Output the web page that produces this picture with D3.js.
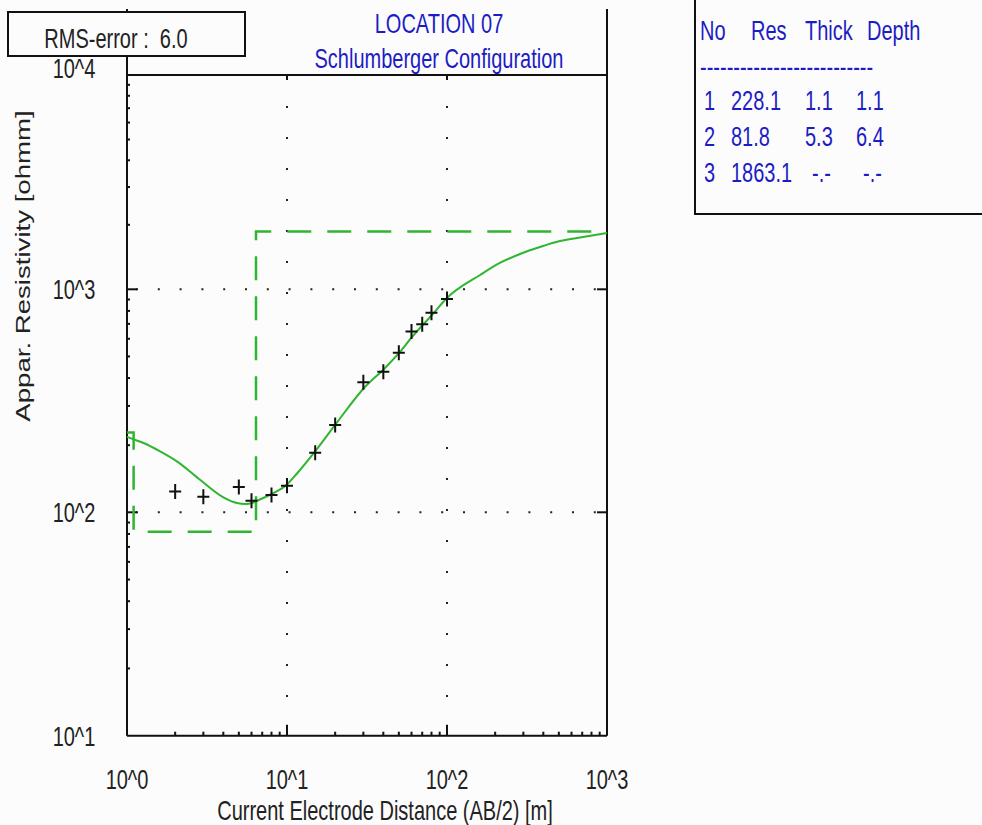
<!DOCTYPE html>
<html>
<head>
<meta charset="utf-8">
<script src="https://cdn.jsdelivr.net/npm/d3@7"></script>
<style>
  body { margin: 0; background: #fcfcfc; }
  text { font-family: "Liberation Sans", Arial, sans-serif; font-size: 20px; }
</style>
</head>
<body>
<script>
// sounding data (AB/2 in m, apparent resistivity in ohmm)
var obsAB  = [2, 3, 5, 6, 8, 10, 15, 20, 30, 40, 50, 60, 70, 80, 100];
var obsRho = [124, 117.5, 130, 112.7, 119.6, 131.6, 185, 246, 383, 427, 520, 646, 697, 785, 905];

// fitted model curve
var fitAB  = [1, 1.09, 1.28, 1.6, 2.08, 2.86, 3.98, 4.87, 5.5, 6.04, 6.77, 8, 10, 11.55, 15.2, 20.2, 30.3, 41, 50.8, 60.4, 80.5, 100, 161, 214, 286, 381, 508, 708, 1000];
var fitRho = [218, 213, 204, 188, 168, 140, 117, 110, 109, 110, 114.1, 120.8, 133.3, 149.3, 190, 249, 361, 444, 524, 611, 767, 914, 1166, 1327, 1461, 1575, 1680, 1754, 1831];

// layered model
var layerNo    = [1, 2, 3];
var layerRes   = [228.1, 81.8, 1863.1];
var layerThick = [1.1, 5.3];
var layerDepth = [1.1, 6.4];

var xTicks = [1, 10, 100, 1000];
var xTickLabels = ["10^0", "10^1", "10^2", "10^3"];
var yTicks = [10, 100, 1000, 10000];
var yTickLabels = ["10^1", "10^2", "10^3", "10^4"];

var rmsError = 6.0;
var titleLines = ["LOCATION 07", "Schlumberger Configuration"];

var green = '#2fb52f';
var blue = '#1c1cc4';
var stretch = 'scale(1,1.38)';

var svg = d3.select("body").append("svg")
    .attr("width", 982)
    .attr("height", 825)
    .style("background", "#fcfcfc");

var x = d3.scaleLog().domain([1, 1000]).range([127, 607]);
var y = d3.scaleLog().domain(yTicks).range([735.7, 512.3, 289.3, 75]);

function txt(px, py, s, anchor, color) {
    return svg.append("text")
        .attr("transform", "translate(" + px + "," + py + ") " + stretch)
        .attr("text-anchor", anchor || "start")
        .style("fill", color || "#222")
        .text(s);
}

// dotted grid at the inner decades
svg.selectAll("line.hgrid")
    .data(yTicks.slice(1, 3))
    .enter().append("line")
    .attr("x1", x(1)).attr("x2", x(1000))
    .attr("y1", function (d) { return y(d); })
    .attr("y2", function (d) { return y(d); })
    .style("stroke", "#222").style("stroke-width", 2)
    .style("stroke-dasharray", "2,19.8").style("stroke-dashoffset", 12.8);

svg.selectAll("line.vgrid")
    .data(xTicks.slice(1, 3))
    .enter().append("line")
    .attr("y1", y(10000)).attr("y2", y(10))
    .attr("x1", function (d) { return x(d); })
    .attr("x2", function (d) { return x(d); })
    .style("stroke", "#222").style("stroke-width", 2)
    .style("stroke-dasharray", "2,29");

// frame
var frame = svg.append("g").style("stroke", "#111").style("stroke-width", 2);
frame.append("line").attr("x1", x(1)).attr("x2", x(1)).attr("y1", 9).attr("y2", y(10));
frame.append("line").attr("x1", x(1000)).attr("x2", x(1000)).attr("y1", 9).attr("y2", y(10));
frame.append("line").attr("x1", x(1)).attr("x2", x(1000)).attr("y1", y(10)).attr("y2", y(10));
frame.append("line").attr("x1", x(1)).attr("x2", x(1000)).attr("y1", y(10000)).attr("y2", y(10000));

// minor ticks
var minorX = [], minorY = [];
[1, 10, 100].forEach(function (p) { d3.range(2, 10).forEach(function (k) { minorX.push(k * p); }); });
[10, 100, 1000].forEach(function (p) { d3.range(2, 10).forEach(function (k) { minorY.push(k * p); }); });

frame.selectAll("line.mx").data(minorX).enter().append("line")
    .attr("x1", function (d) { return x(d); }).attr("x2", function (d) { return x(d); })
    .attr("y1", y(10)).attr("y2", y(10) - 4);
frame.selectAll("line.my").data(minorY).enter().append("line")
    .attr("y1", function (d) { return y(d); }).attr("y2", function (d) { return y(d); })
    .attr("x1", x(1)).attr("x2", x(1) + 3);

// major ticks
var innerX = xTicks.slice(1, 3), innerY = yTicks.slice(1, 3);
frame.selectAll("line.bx").data(innerX).enter().append("line")
    .attr("x1", function (d) { return x(d); }).attr("x2", function (d) { return x(d); })
    .attr("y1", y(10)).attr("y2", y(10) - 11);
frame.selectAll("line.tx").data(innerX).enter().append("line")
    .attr("x1", function (d) { return x(d); }).attr("x2", function (d) { return x(d); })
    .attr("y1", y(10000)).attr("y2", y(10000) + 5);
frame.selectAll("line.ly").data(innerY).enter().append("line")
    .attr("y1", function (d) { return y(d); }).attr("y2", function (d) { return y(d); })
    .attr("x1", x(1)).attr("x2", x(1) + 10);
frame.selectAll("line.ry").data(innerY).enter().append("line")
    .attr("y1", function (d) { return y(d); }).attr("y2", function (d) { return y(d); })
    .attr("x1", x(1000)).attr("x2", x(1000) - 10);

// tick labels
xTicks.forEach(function (d, i) { txt(x(d), 789, xTickLabels[i], "middle"); });
yTicks.forEach(function (d, i) {
    txt(74, y(d) + (i === yTicks.length - 1 ? 3 : 10), yTickLabels[i], "middle");
});

// axis titles
txt(385, 820, "Current Electrode Distance (AB/2) [m]", "middle");
svg.append("text")
    .attr("transform", "translate(30,266) " + stretch + " rotate(-90)")
    .attr("text-anchor", "middle")
    .style("fill", "#222")
    .text("Appar. Resistivity [ohmm]");

// layered model (dashed steps)
var stepX = [x.domain()[0]].concat(layerDepth, [x.domain()[1]]);
var stepY = layerRes.concat([layerRes[layerRes.length - 1]]);
svg.append("path")
    .datum(d3.zip(stepX, stepY))
    .attr("d", d3.line()
        .x(function (d) { return x(d[0]); })
        .y(function (d) { return y(d[1]); })
        .curve(d3.curveStepAfter))
    .style("fill", "none").style("stroke", green).style("stroke-width", 2.5)
    .style("stroke-dasharray", "24,16");

// fitted curve
svg.append("path")
    .datum(d3.zip(fitAB, fitRho))
    .attr("d", d3.line()
        .x(function (d) { return x(d[0]); })
        .y(function (d) { return y(d[1]); })
        .curve(d3.curveMonotoneX))
    .style("fill", "none").style("stroke", green).style("stroke-width", 2);

// observed points as crosses
svg.selectAll("path.obs")
    .data(d3.zip(obsAB, obsRho))
    .enter().append("path")
    .attr("class", "obs")
    .attr("transform", function (d) { return "translate(" + x(d[0]) + "," + y(d[1]) + ")"; })
    .attr("d", "M-6,0H6M0,-7.5V7.5")
    .style("stroke", "#111").style("stroke-width", 2);

// RMS box
svg.append("rect")
    .attr("x", 8).attr("y", 12).attr("width", 237).attr("height", 44)
    .style("fill", "#fcfcfc").style("stroke", "#111").style("stroke-width", 2);
txt(116, 48, "RMS-error :  " + rmsError.toFixed(1), "middle").style("white-space", "pre");

// title
txt(439, 33, titleLines[0], "middle", blue);
txt(439, 68, titleLines[1], "middle", blue);

// model table
svg.append("path")
    .attr("d", "M695,0V214H982")
    .style("fill", "none").style("stroke", "#111").style("stroke-width", 2);

var headers = ["No", "Res", "Thick", "Depth"];
var headerX = [700, 751, 805, 867];
headers.forEach(function (h, i) { txt(headerX[i], 40, h, "start", blue); });
txt(700, 76, d3.range(26).map(function () { return "-"; }).join(""), "start", blue);

var colX = [704, 731, 805, 856];
var rowY = d3.scaleLinear().domain([0, 2]).range([110, 182]);
layerNo.forEach(function (n, i) {
    var cells = [
        String(n),
        layerRes[i].toFixed(1),
        i < layerThick.length ? layerThick[i].toFixed(1) : "-.-",
        i < layerDepth.length ? layerDepth[i].toFixed(1) : "-.-"
    ];
    cells.forEach(function (c, j) {
        // the blank cells sit a little to the right in the original
        var shift = c === "-.-" ? 7 : 0;
        txt(colX[j] + shift, rowY(i), c, "start", blue);
    });
});
</script>
</body>
</html>
